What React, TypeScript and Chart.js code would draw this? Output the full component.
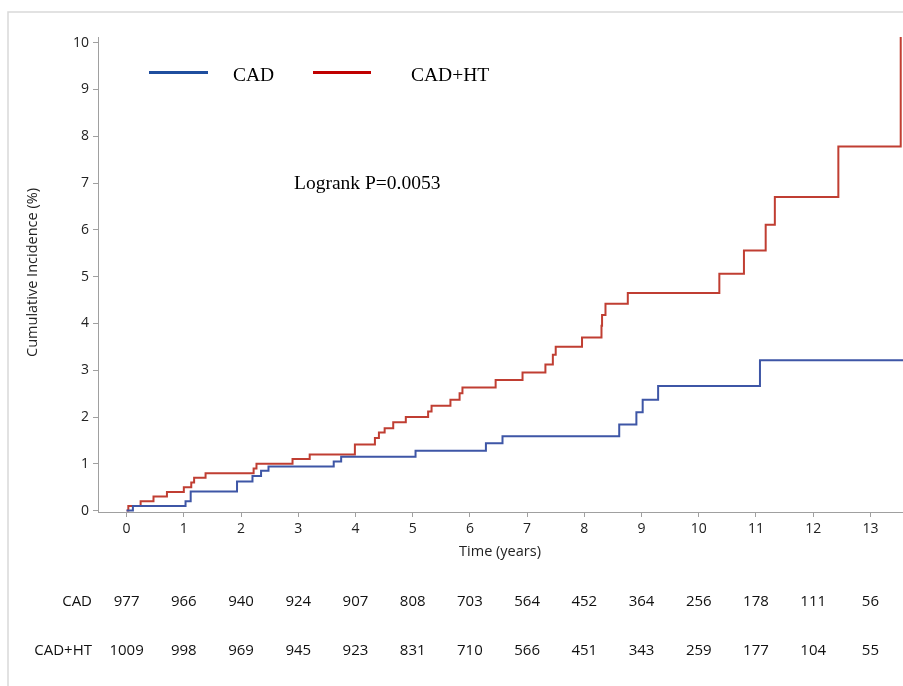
import React, { useEffect, useRef } from "react";
import { Chart, registerables } from "chart.js";

Chart.register(...registerables);

// ---- data ----
const cadTimes = [0, 0.11, 1.03, 1.12, 1.93, 2.2, 2.35, 2.48, 3.62, 3.75, 5.05, 6.28, 6.57, 8.61, 8.91, 9.02, 9.29, 11.07, 13.57];
const cadValues = [0, 0.1, 0.2, 0.41, 0.62, 0.74, 0.85, 0.94, 1.05, 1.15, 1.28, 1.44, 1.59, 1.84, 2.1, 2.37, 2.66, 3.21, 3.21];

const htTimes = [0, 0.03, 0.245, 0.47, 0.705, 1.0, 1.13, 1.18, 1.38, 2.22, 2.27, 2.9, 3.2, 3.99, 4.34, 4.41, 4.51, 4.66, 4.88, 5.27, 5.33, 5.66, 5.82, 5.87, 6.45, 6.92, 7.32, 7.45, 7.5, 7.96, 8.3, 8.31, 8.37, 8.76, 10.36, 10.79, 11.17, 11.33, 12.44, 13.53];
const htValues = [0, 0.1, 0.2, 0.3, 0.4, 0.5, 0.6, 0.7, 0.8, 0.9, 1.0, 1.1, 1.2, 1.41, 1.55, 1.67, 1.76, 1.89, 2.0, 2.12, 2.24, 2.37, 2.51, 2.63, 2.79, 2.95, 3.12, 3.33, 3.5, 3.7, 3.95, 4.18, 4.42, 4.65, 5.06, 5.56, 6.11, 6.7, 7.78, 10.12];

const xTicks = [0, 1, 2, 3, 4, 5, 6, 7, 8, 9, 10, 11, 12, 13];
const yTicks = [0, 1, 2, 3, 4, 5, 6, 7, 8, 9, 10];

const riskCAD = [977, 966, 940, 924, 907, 808, 703, 564, 452, 364, 256, 178, 111, 56];
const riskHT = [1009, 998, 969, 945, 923, 831, 710, 566, 451, 343, 259, 177, 104, 55];

const seriesNames = ["CAD", "CAD+HT"];
const pValueText = "Logrank P=0.0053";
const xTitle = "Time (years)";
const yTitle = "Cumulative Incidence (%)";

const SANS = "'Open Sans', 'Noto Sans', sans-serif";
const SERIF = "'Liberation Serif', 'Times New Roman', serif";

const overlayPlugin = {
  id: "overlay",
  beforeDraw(chart: any) {
    const ctx = chart.ctx;
    ctx.save();
    ctx.fillStyle = "#ffffff";
    ctx.fillRect(0, 0, chart.width, chart.height);
    ctx.strokeStyle = "#d9d9d9";
    ctx.lineWidth = 1.5;
    ctx.beginPath();
    ctx.moveTo(8, chart.height);
    ctx.lineTo(8, 12);
    ctx.lineTo(chart.width, 12);
    ctx.stroke();
    ctx.restore();
  },
  afterDraw(chart: any) {
    const ctx = chart.ctx;
    const xs = chart.scales.x;
    ctx.save();
    // legend
    ctx.lineWidth = 3;
    ctx.strokeStyle = "#1f4e9e";
    ctx.beginPath();
    ctx.moveTo(149, 72.5);
    ctx.lineTo(208, 72.5);
    ctx.stroke();
    ctx.strokeStyle = "#c00000";
    ctx.beginPath();
    ctx.moveTo(313, 72.5);
    ctx.lineTo(371, 72.5);
    ctx.stroke();
    ctx.fillStyle = "#000";
    ctx.font = `19.5px ${SERIF}`;
    ctx.textBaseline = "alphabetic";
    ctx.textAlign = "left";
    ctx.fillText(seriesNames[0], 233, 81);
    ctx.fillText(seriesNames[1], 411, 81);
    ctx.fillText(pValueText, 294, 188.5);

    // axis titles
    ctx.fillStyle = "#222";
    ctx.font = `14.5px ${SANS}`;
    ctx.textAlign = "center";
    ctx.textBaseline = "middle";
    ctx.fillText(xTitle, 500, 551.5);
    ctx.save();
    ctx.translate(33, 272.5);
    ctx.rotate(-Math.PI / 2);
    ctx.fillText(yTitle, 0, 0);
    ctx.restore();

    // risk table
    ctx.font = `15px ${SANS}`;
    ctx.fillStyle = "#111";
    ctx.textAlign = "right";
    ctx.fillText(seriesNames[0], 92, 602);
    ctx.fillText(seriesNames[1], 92, 650.5);
    ctx.textAlign = "center";
    xTicks.forEach((t, i) => {
      const px = xs.getPixelForValue(t);
      ctx.fillText(String(riskCAD[i]), px, 602);
      ctx.fillText(String(riskHT[i]), px, 650.5);
    });
    ctx.restore();
  },
};

export default function App() {
  const ref = useRef<HTMLCanvasElement | null>(null);
  useEffect(() => {
    if (!ref.current) return;
    const chart = new Chart(ref.current, {
      type: "line",
      data: {
        datasets: [
          {
            label: seriesNames[0],
            data: cadTimes.map((t, i) => ({ x: t, y: cadValues[i] })),
            borderColor: "rgb(62,86,166)",
            borderWidth: 2,
            pointRadius: 0,
            stepped: "before",
            fill: false,
          },
          {
            label: seriesNames[1],
            data: htTimes.map((t, i) => ({ x: t, y: htValues[i] })),
            borderColor: "rgb(192,62,50)",
            borderWidth: 2,
            pointRadius: 0,
            stepped: "before",
            fill: false,
          },
        ],
      },
      options: {
        animation: false,
        responsive: false,
        layout: { padding: { top: 37, left: 0, right: 0, bottom: 0 } },
        plugins: {
          legend: { display: false },
          tooltip: { enabled: false },
        },
        scales: {
          x: {
            type: "linear",
            min: -0.5,
            max: 13.57,
            afterFit: (s: any) => {
              s.height = 174;
            },
            afterBuildTicks: (s: any) => {
              s.ticks = xTicks.map((v) => ({ value: v }));
            },
            grid: { drawOnChartArea: false, drawTicks: true, tickLength: 5, color: "#a0a0a0" },
            border: { display: true, color: "#a0a0a0", width: 1 },
            ticks: {
              autoSkip: false,
              maxRotation: 0,
              padding: 4,
              color: "#222",
              font: { family: SANS, size: 14 },
              callback: (v: any) => String(v),
            },
          },
          y: {
            type: "linear",
            min: -0.03,
            max: 10.12,
            afterFit: (s: any) => {
              s.width = 98;
            },
            afterBuildTicks: (s: any) => {
              s.ticks = yTicks.map((v) => ({ value: v }));
            },
            grid: { drawOnChartArea: false, drawTicks: true, tickLength: 5, color: "#a0a0a0" },
            border: { display: true, color: "#a0a0a0", width: 1 },
            ticks: {
              autoSkip: false,
              padding: 4,
              color: "#222",
              font: { family: SANS, size: 14 },
              callback: (v: any) => String(v),
            },
          },
        },
      },
      plugins: [overlayPlugin],
    });
    return () => chart.destroy();
  }, []);
  return (
    <div style={{ position: "absolute", left: 0, top: 0, width: 903, height: 686 }}>
      <canvas ref={ref} width={903} height={686} style={{ display: "block" }} />
    </div>
  );
}
